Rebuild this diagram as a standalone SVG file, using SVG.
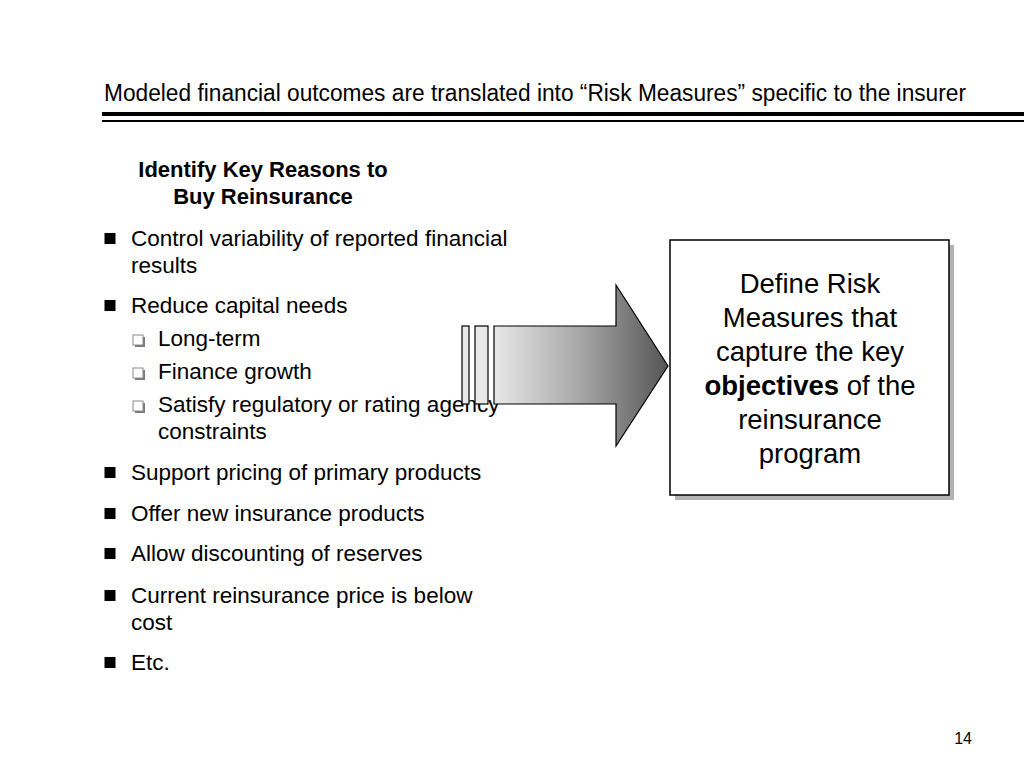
<svg xmlns="http://www.w3.org/2000/svg" width="1024" height="768" viewBox="0 0 1024 768">
<defs>
<linearGradient id="arrowGrad" x1="494" y1="0" x2="668" y2="0" gradientUnits="userSpaceOnUse">
<stop offset="0" stop-color="#e8e8e8"/>
<stop offset="0.5" stop-color="#a6a6a6"/>
<stop offset="1" stop-color="#555555"/>
</linearGradient>
<g id="fb"><rect x="0" y="0" width="11" height="11" fill="#000"/></g>
<g id="hb"><rect x="2" y="2" width="10" height="10" fill="#7a7a7a"/><rect x="0" y="0" width="10" height="10" fill="#fff" stroke="#8a8a8a" stroke-width="1"/></g>
</defs>
<style>
text{font-family:"Liberation Sans",Arial,sans-serif;fill:#000}
.b{font-size:22.5px}
.h{font-size:22px;font-weight:bold}
.box{font-size:27.5px}
</style>
<rect width="1024" height="768" fill="#fff"/>
<g id="title">
<text x="104" y="101" font-size="23" textLength="862" lengthAdjust="spacingAndGlyphs">Modeled financial outcomes are translated into “Risk Measures” specific to the insurer</text>
<rect x="102" y="112" width="922" height="4" fill="#000"/>
<rect x="102" y="120" width="922" height="2" fill="#000"/>
</g>
<g id="reasons">
<text class="h" x="263" y="177" text-anchor="middle">Identify Key Reasons to</text>
<text class="h" x="263" y="204" text-anchor="middle">Buy Reinsurance</text>
<use href="#fb" x="104.5" y="233"/>
<text class="b" x="131" y="246">Control variability of reported financial</text>
<text class="b" x="131" y="273">results</text>
<use href="#fb" x="104.5" y="300"/>
<text class="b" x="131" y="313">Reduce capital needs</text>
<use href="#hb" x="133" y="335"/>
<text class="b" x="158" y="346">Long-term</text>
<use href="#hb" x="133" y="368"/>
<text class="b" x="158" y="379">Finance growth</text>
<use href="#hb" x="133" y="401"/>
<text class="b" x="158" y="412">Satisfy regulatory or rating agency</text>
<text class="b" x="158" y="439">constraints</text>
<use href="#fb" x="104.5" y="467"/>
<text class="b" x="131" y="480">Support pricing of primary products</text>
<use href="#fb" x="104.5" y="508"/>
<text class="b" x="131" y="521">Offer new insurance products</text>
<use href="#fb" x="104.5" y="548"/>
<text class="b" x="131" y="561">Allow discounting of reserves</text>
<use href="#fb" x="104.5" y="590"/>
<text class="b" x="131" y="603">Current reinsurance price is below</text>
<text class="b" x="131" y="630">cost</text>
<use href="#fb" x="104.5" y="657"/>
<text class="b" x="131" y="670">Etc.</text>
</g>
<g id="connectors">
<rect x="462" y="326" width="7" height="78" fill="#e8e8e8" stroke="#000" stroke-width="1.2"/>
<rect x="475" y="326" width="13" height="78" fill="#e8e8e8" stroke="#000" stroke-width="1.2"/>
<polygon points="494,326 616,326 616,285 668,366 616,446 616,404 494,404" fill="url(#arrowGrad)" stroke="#000" stroke-width="1.2" stroke-linejoin="miter"/>
</g>
<g id="riskMeasures">
<rect x="675" y="245" width="279" height="255" fill="#b3b3b3"/>
<rect x="670" y="240" width="279" height="255" fill="#fff" stroke="#000" stroke-width="1.5"/>
<text class="box" x="810" y="293" text-anchor="middle">Define Risk</text>
<text class="box" x="810" y="327" text-anchor="middle">Measures that</text>
<text class="box" x="810" y="361" text-anchor="middle">capture the key</text>
<text class="box" x="810" y="395" text-anchor="middle"><tspan font-weight="bold">objectives</tspan> of the</text>
<text class="box" x="810" y="429" text-anchor="middle">reinsurance</text>
<text class="box" x="810" y="463" text-anchor="middle">program</text>
</g>
<g id="page">
<text x="972" y="744" font-size="16" text-anchor="end">14</text>
</g>
</svg>
